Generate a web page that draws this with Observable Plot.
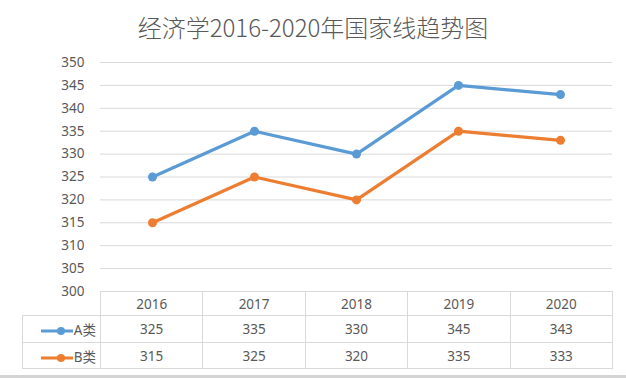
<!DOCTYPE html>
<html>
<head>
<meta charset="utf-8">
<script src="https://cdn.jsdelivr.net/npm/d3@7"></script>
<script src="https://cdn.jsdelivr.net/npm/@observablehq/plot@0.6"></script>
<style>
  html, body { margin: 0; padding: 0; background: #fff; }
  #wrap { position: relative; width: 626px; height: 378px; overflow: hidden; background: #fff; font-family: "Noto Sans", "Noto Sans CJK SC", sans-serif; color: #595959; }
  #title { position: absolute; left: 0; top: 9px; width: 626px; text-align: center; font-family: "Noto Sans CJK SC", sans-serif; font-size: 24px; font-weight: 300; line-height: 36px; color: #595959; }
  #chart { position: absolute; left: 0; top: 0; }
  #tbl { position: absolute; left: 22px; top: 291px; border-collapse: collapse; table-layout: fixed; font-size: 13.5px; color: #595959; }
  #tbl td { border: 1px solid #d9d9d9; text-align: center; padding: 0; font-family: "Noto Sans", "Noto Sans CJK SC", sans-serif; }
  #tbl td.corner { border-top: none; border-left: none; }
  #tbl td.leg { text-align: right; padding-right: 4px; white-space: nowrap; }
  #tbl td.leg svg { vertical-align: middle; margin-right: 1px; }
  #bottom { position: absolute; left: 0; top: 375px; width: 626px; height: 3px; background: #d4d4d4; }
</style>
</head>
<body>
<div id="wrap">
  <div id="title"></div>
  <div id="chart"></div>
  <div id="bottom"></div>
</div>
<script>
const titleText = "经济学2016-2020年国家线趋势图";
const years = ["2016", "2017", "2018", "2019", "2020"];
const seriesNames = ["A类", "B类"];
const seriesA = [325, 335, 330, 345, 343];
const seriesB = [315, 325, 320, 335, 333];
const seriesColors = ["#5B9BD5", "#ED7D31"];
const yTicks = [300, 305, 310, 315, 320, 325, 330, 335, 340, 345, 350];

const seriesValues = [seriesA, seriesB];
const data = seriesNames.flatMap((name, s) =>
  years.map((year, i) => ({ year, value: seriesValues[s][i], series: name }))
);

document.getElementById("title").textContent = titleText;

const chart = Plot.plot({
  width: 626,
  height: 300,
  marginTop: 62,
  marginBottom: 9,
  marginLeft: 100,
  marginRight: 14,
  style: { background: "transparent", color: "#595959", fontFamily: "Noto Sans, sans-serif" },
  x: { type: "point", domain: years, padding: 0.5, axis: null },
  y: { domain: [300, 350] },
  color: { domain: seriesNames, range: seriesColors },
  marks: [
    Plot.ruleY(yTicks.filter(d => d > 300), { stroke: "#d9d9d9", strokeWidth: 1 }),
    Plot.ruleY([300], { stroke: "#d9d9d9", strokeWidth: 1 }),
    Plot.axisY({ ticks: yTicks, tickSize: 0, tickPadding: 16, fontSize: 13.5, fill: "#595959", label: null }),
    Plot.lineY(data, { x: "year", y: "value", z: "series", stroke: "series", strokeWidth: 3.2, strokeLinejoin: "round" }),
    Plot.dot(data, { x: "year", y: "value", fill: "series", r: 4.5 })
  ]
});
document.getElementById("chart").appendChild(chart);

// data table under the chart
const table = document.createElement("table");
table.id = "tbl";
const colgroup = document.createElement("colgroup");
const c0 = document.createElement("col"); c0.style.width = "78px"; colgroup.appendChild(c0);
years.forEach(() => { const c = document.createElement("col"); c.style.width = "102.4px"; colgroup.appendChild(c); });
table.appendChild(colgroup);

const head = document.createElement("tr");
head.style.height = "24px";
const corner = document.createElement("td"); corner.className = "corner"; head.appendChild(corner);
years.forEach(y => { const td = document.createElement("td"); td.textContent = y; head.appendChild(td); });
table.appendChild(head);

seriesNames.forEach((name, s) => {
  const tr = document.createElement("tr");
  tr.style.height = s === 0 ? "27px" : "26px";
  const leg = document.createElement("td");
  leg.className = "leg";
  const col = seriesColors[s];
  leg.innerHTML = `<svg width="32" height="10"><line x1="0" y1="5" x2="32" y2="5" stroke="${col}" stroke-width="3"/><circle cx="20" cy="5" r="4" fill="${col}"/></svg>`;
  leg.appendChild(document.createTextNode(name));
  tr.appendChild(leg);
  seriesValues[s].forEach(v => { const td = document.createElement("td"); td.textContent = v; tr.appendChild(td); });
  table.appendChild(tr);
});
document.getElementById("wrap").appendChild(table);
</script>
</body>
</html>
